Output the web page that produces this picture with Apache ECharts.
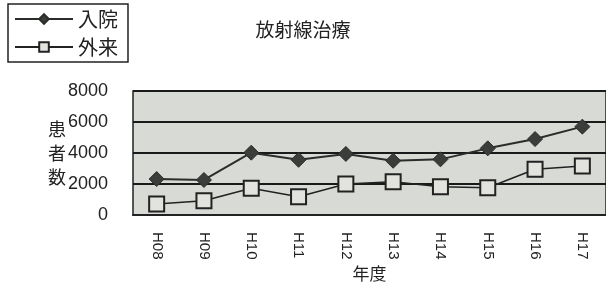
<!DOCTYPE html>
<html>
<head>
<meta charset="utf-8">
<script src="https://cdn.jsdelivr.net/npm/echarts@6/dist/echarts.min.js"></script>
<style>
  body { margin: 0; background: #fff; }
  #chart { width: 606px; height: 299px; }
</style>
</head>
<body>
<div id="chart"></div>
<script>
  // 年度
  var years = ['H08', 'H09', 'H10', 'H11', 'H12', 'H13', 'H14', 'H15', 'H16', 'H17'];
  // 入院
  var inpatient = [2320, 2260, 4020, 3560, 3940, 3500, 3590, 4300, 4900, 5700];
  // 外来
  var outpatient = [710, 920, 1720, 1180, 2000, 2150, 1830, 1760, 2950, 3160];
  var yTicks = [0, 2000, 4000, 6000, 8000];

  var font = "'Noto Sans CJK JP', 'Noto Sans', sans-serif";
  var numFont = "'Liberation Sans Narrow', 'Liberation Sans', sans-serif";
  var myChart = echarts.init(document.getElementById('chart'));

  myChart.setOption({
    animation: false,
    textStyle: { fontFamily: font },
    title: {
      text: '放射線治療',
      left: 'center',
      top: 15,
      textStyle: { fontSize: 19, fontWeight: 'normal', color: '#222', fontFamily: font }
    },
    legend: {
      left: 8,
      top: 4,
      orient: 'vertical',
      itemWidth: 58,
      itemHeight: 12,
      itemGap: 8,
      padding: [5, 10, 5, 6],
      borderColor: '#222',
      borderWidth: 1.5,
      textStyle: { fontSize: 20, color: '#222', fontFamily: font },
      data: ['入院', '外来']
    },
    grid: {
      left: 133,
      top: 91,
      right: 0,
      bottom: 84,
      show: true,
      backgroundColor: '#d8dad6',
      borderColor: '#222',
      borderWidth: 1.5
    },
    xAxis: {
      type: 'category',
      data: years,
      boundaryGap: true,
      name: '年度',
      nameLocation: 'middle',
      nameMoveOverlap: false,
      nameGap: 50,
      nameTextStyle: { fontSize: 17, color: '#222', fontFamily: font },
      axisLine: { lineStyle: { color: '#222', width: 2 } },
      axisTick: { inside: true, length: 6, lineStyle: { color: '#222', width: 1.5 } },
      axisLabel: { rotate: -90, fontSize: 15, color: '#222', margin: 17, fontFamily: numFont }
    },
    yAxis: {
      type: 'value',
      min: yTicks[0],
      max: yTicks[yTicks.length - 1],
      interval: 2000,
      name: '患\n者\n数',
      nameLocation: 'middle',
      nameMoveOverlap: false,
      nameRotate: 0,
      nameGap: 67,
      nameTextStyle: { fontSize: 18, color: '#222', lineHeight: 24, fontFamily: font },
      axisLine: { show: false },
      axisTick: { show: false },
      axisLabel: {
        fontSize: 18, color: '#222', margin: 25, fontFamily: numFont,
        formatter: function (v) { return String(v); }
      },
      splitLine: { lineStyle: { color: '#1a1a1a', width: 2 } }
    },
    series: [
      {
        name: '入院',
        type: 'line',
        data: inpatient,
        symbol: 'diamond',
        symbolSize: 15,
        lineStyle: { color: '#2b2d2b', width: 2 },
        itemStyle: { color: '#3a3d3a', borderColor: '#2b2d2b', borderWidth: 1 }
      },
      {
        name: '外来',
        type: 'line',
        data: outpatient,
        symbol: 'rect',
        symbolSize: 15,
        lineStyle: { color: '#222', width: 1.5 },
        itemStyle: { color: '#e2e3df', borderColor: '#222', borderWidth: 2 }
      }
    ]
  });
</script>
</body>
</html>
